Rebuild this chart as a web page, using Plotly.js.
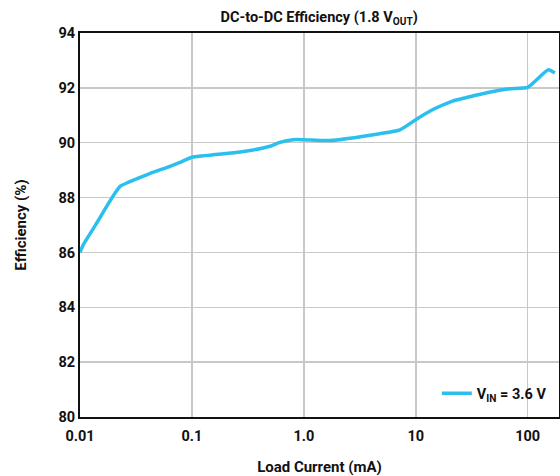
<!DOCTYPE html>
<html>
<head>
<meta charset="utf-8">
<script src="https://cdn.plot.ly/plotly-3.0.1.min.js"></script>
<style>html,body{margin:0;padding:0;background:#fff}#chart{width:560px;height:476px}</style>
</head>
<body>
<div id="chart"></div>
<script>
const loadCurrent = [0.01, 0.0107, 0.0141, 0.0173, 0.0206, 0.0228, 0.0261, 0.0394, 0.0637, 0.078, 0.1, 0.269, 0.5, 0.61, 0.8, 1.0, 1.7, 4.75, 7.24, 10, 14.1, 21, 32.7, 49, 69.5, 100, 153, 175];
const efficiency = [86.0, 86.28, 87.07, 87.68, 88.17, 88.41, 88.53, 88.83, 89.14, 89.28, 89.47, 89.66, 89.87, 90.01, 90.11, 90.11, 90.08, 90.33, 90.47, 90.84, 91.2, 91.51, 91.71, 91.87, 91.97, 92.02, 92.66, 92.54];
const xTickVals = [0.01, 0.1, 1, 10, 100];
const xTickText = ["0.01", "0.1", "1.0", "10", "100"];
const yTickVals = [80, 82, 84, 86, 88, 90, 92, 94];
const seriesName = "V<sub>IN</sub> = 3.6 V";

const fontFam = "Roboto, 'Open Sans', sans-serif";
const trace = {
  x: loadCurrent, y: efficiency, type: 'scatter', mode: 'lines', name: seriesName,
  line: {color: '#2bbfee', width: 3.5, shape: 'spline', smoothing: 0.5}
};
const layout = {
  width: 560, height: 476,
  margin: {l: 80, r: 1, t: 33, b: 59},
  paper_bgcolor: '#fff', plot_bgcolor: '#fff',
  font: {family: fontFam, color: '#111', size: 14, weight: 'bold'},
  title: {text: 'DC-to-DC Efficiency (1.8 V<sub>OUT</sub>)', font: {family: fontFam, size: 14.5, weight: 'bold', color: '#111'},
          x: 0.57, xanchor: 'center', y: 1 - 17/476, yanchor: 'middle', yref: 'container'},
  xaxis: {
    type: 'log', range: [-2, 2.28],
    tickvals: xTickVals, ticktext: xTickText, ticks: 'outside', ticklen: 5, tickcolor: 'rgba(0,0,0,0)',
    showgrid: true, gridcolor: '#c8c8c8', gridwidth: 1.5,
    showline: true, linecolor: '#111', linewidth: 2, mirror: true,
    zeroline: false,
    tickfont: {family: fontFam, size: 14.5, weight: 'bold', color: '#111'},
    title: {text: 'Load Current (mA)', font: {family: fontFam, size: 15, weight: 'bold', color: '#111'}, standoff: 18}
  },
  yaxis: {
    range: [80, 94], tickvals: yTickVals, ticks: '',
    showgrid: true, gridcolor: '#c8c8c8', gridwidth: 1.5,
    showline: true, linecolor: '#111', linewidth: 2, mirror: true,
    zeroline: false,
    tickfont: {family: fontFam, size: 14.5, weight: 'bold', color: '#111'},
    title: {text: 'Efficiency (%)', font: {family: fontFam, size: 15, weight: 'bold', color: '#111'}, standoff: 28}
  },
  showlegend: true,
  legend: {x: 0.985, xanchor: 'right', y: 0.02, yanchor: 'bottom', bgcolor: 'rgba(255,255,255,0)',
           font: {family: fontFam, size: 14.5, weight: 'bold', color: '#111'}}
};
Plotly.newPlot('chart', [trace], layout, {displayModeBar: false, staticPlot: true});
</script>
</body>
</html>
